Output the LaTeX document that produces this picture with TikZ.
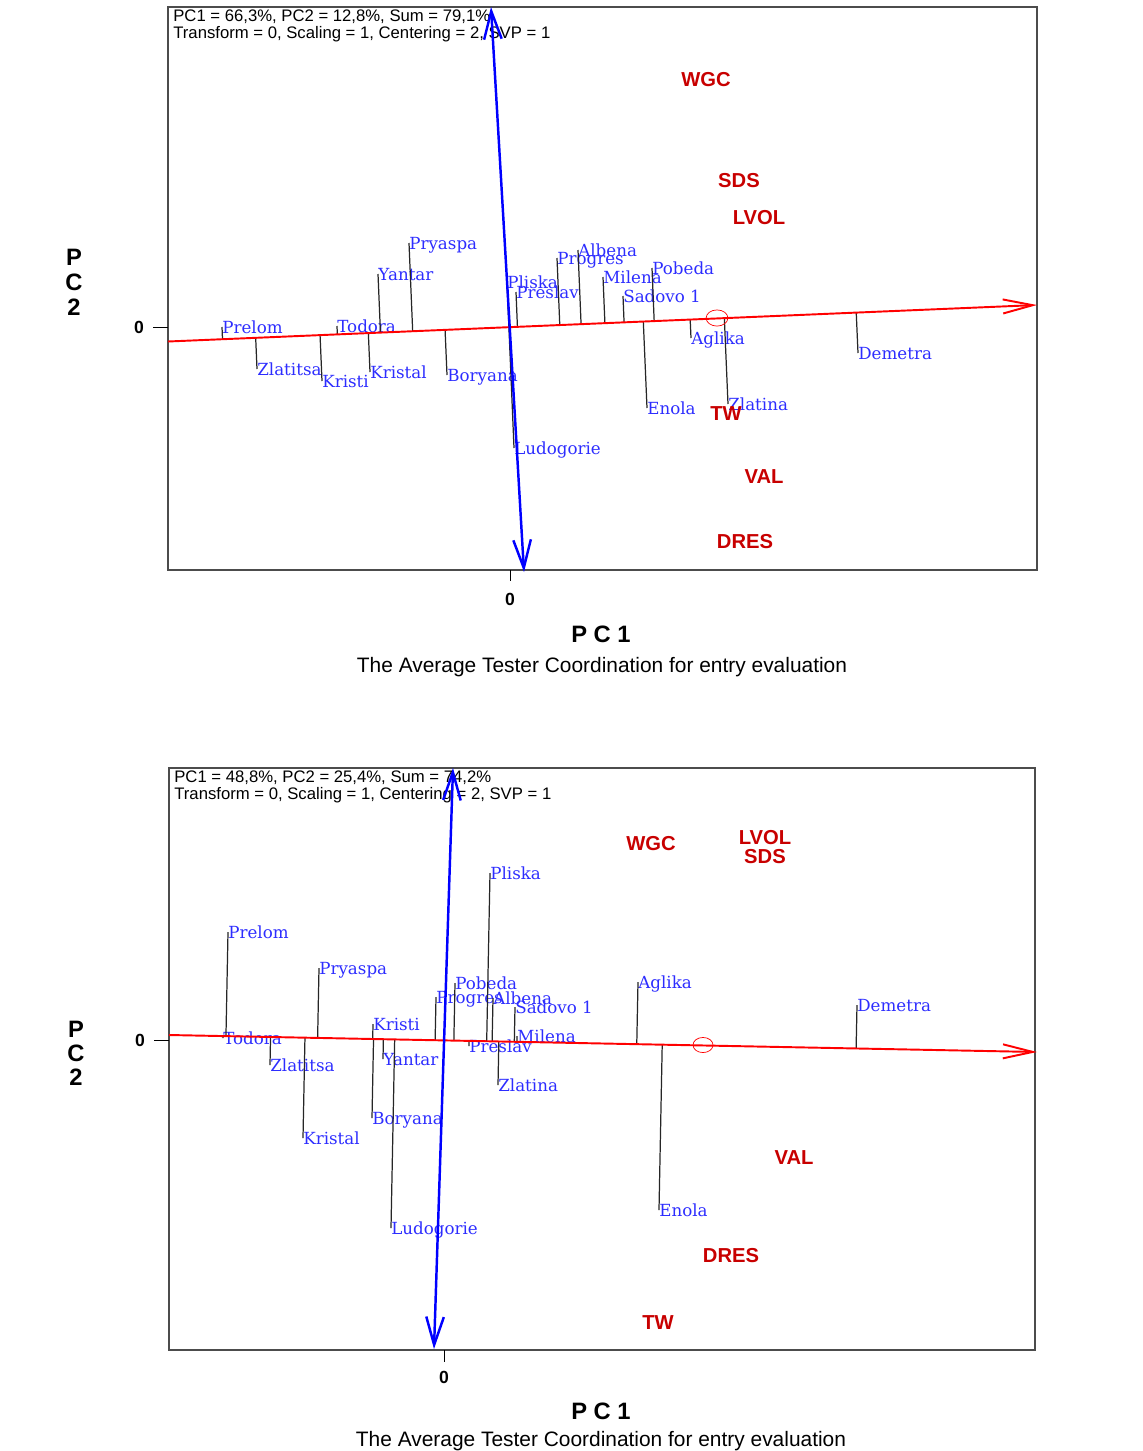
\documentclass[tikz,border=0pt]{standalone}
\usepackage{fontspec}
\setmainfont{Liberation Sans}
\newfontfamily\cultfont{DejaVu Serif}
\usetikzlibrary{calc,arrows.meta}

\definecolor{axred}{RGB}{255,0,0}
\definecolor{axblue}{RGB}{0,0,255}
\definecolor{cultblue}{RGB}{45,45,255}
\definecolor{traitred}{RGB}{200,0,0}

\tikzset{
  cult/.style={anchor=west, inner sep=0pt, text height=6.9pt, text depth=0pt,
    text=cultblue, font=\cultfont\fontsize{9.5}{10}\selectfont},
  trait/.style={inner sep=0pt, text height=8.3pt, text depth=0pt,
    text=traitred, font=\fontsize{11.5}{12}\selectfont\bfseries},
  leader/.style={black!85, line width=0.7pt},
  frame/.style={black!70, line width=0.8pt},
  pcone/.style={axred, line width=1.1pt, -{Straight Barb[length=17pt,width=8pt]}},
  pctwo/.style={axblue, line width=1.4pt,
    {Straight Barb[length=16pt,width=10pt]}-{Straight Barb[length=16pt,width=10pt]}},
  origin/.style={axred, line width=0.4pt},
  info/.style={anchor=west, inner sep=0pt, font=\fontsize{9.5}{10}\selectfont},
  zero/.style={inner sep=0pt, font=\fontsize{10}{10}\selectfont\bfseries},
  axtitle/.style={inner sep=0pt, font=\fontsize{13.5}{14}\selectfont\bfseries},
  caption/.style={inner sep=0pt, font=\fontsize{11.9}{13}\selectfont},
}

\begin{document}
\begin{tikzpicture}[x=0.02cm, y=-0.02cm]
        \useasboundingbox (0,0) rectangle (1143,1451);

        % upper biplot
        \draw[frame] (168,7) rectangle (1037,570);
        \draw[black] (510,570) -- (510,581);
        \draw[black] (153,327) -- (168,327);
        \node[zero] (tZeroX) at (510,599) {0};
        \node[zero] (tZeroY) at (139,327) {0};
        \node[info] (tInfoA) at (173,17) {PC1 = 66,3\%, PC2 = 12,8\%, Sum = 79,1\%};
        \node[info] (tInfoB) at (173,34) {Transform = 0, Scaling = 1, Centering = 2, SVP = 1};

        \coordinate (tA) at (168,341.5);
        \coordinate (tB) at (1037,305);
        \coordinate (tU) at (491,7);
        \coordinate (tD) at (524,572);

        \node[cult] (tPrelom) at (222,327) {Prelom};
        \node[cult] (tZlatitsa) at (257,369) {Zlatitsa};
        \node[cult] (tKristi) at (322,381) {Kristi};
        \node[cult] (tTodora) at (337,326) {Todora};
        \node[cult] (tKristal) at (370,372) {Kristal};
        \node[cult] (tYantar) at (378,274) {Yantar};
        \node[cult] (tPryaspa) at (409,243) {Pryaspa};
        \node[cult] (tBoryana) at (447,375) {Boryana};
        \node[cult] (tPliska) at (507,282) {Pliska};
        \node[cult] (tPreslav) at (516,292) {Preslav};
        \node[cult] (tLudogorie) at (514,448) {Ludogorie};
        \node[cult] (tProgres) at (557,258) {Progres};
        \node[cult] (tAlbena) at (578,250) {Albena};
        \node[cult] (tMilena) at (603,277) {Milena};
        \node[cult] (tSadovo) at (623,296) {Sadovo 1};
        \node[cult] (tPobeda) at (652,268) {Pobeda};
        \node[cult] (tEnola) at (647,408) {Enola};
        \node[cult] (tAglika) at (691,338) {Aglika};
        \node[cult] (tZlatina) at (728,404) {Zlatina};
        \node[cult] (tDemetra) at (858,353) {Demetra};

        \draw[leader] (tPrelom.west) -- ($(tA)!(tPrelom.west)!(tB)$);
        \draw[leader] (tZlatitsa.west) -- ($(tA)!(tZlatitsa.west)!(tB)$);
        \draw[leader] (tKristi.west) -- ($(tA)!(tKristi.west)!(tB)$);
        \draw[leader] (tTodora.west) -- ($(tA)!(tTodora.west)!(tB)$);
        \draw[leader] (tKristal.west) -- ($(tA)!(tKristal.west)!(tB)$);
        \draw[leader] (tYantar.west) -- ($(tA)!(tYantar.west)!(tB)$);
        \draw[leader] (tPryaspa.west) -- ($(tA)!(tPryaspa.west)!(tB)$);
        \draw[leader] (tBoryana.west) -- ($(tA)!(tBoryana.west)!(tB)$);
        \draw[leader] (tPliska.west) -- ($(tA)!(tPliska.west)!(tB)$);
        \draw[leader] (tPreslav.west) -- ($(tA)!(tPreslav.west)!(tB)$);
        \draw[leader] (tLudogorie.west) -- ($(tA)!(tLudogorie.west)!(tB)$);
        \draw[leader] (tProgres.west) -- ($(tA)!(tProgres.west)!(tB)$);
        \draw[leader] (tAlbena.west) -- ($(tA)!(tAlbena.west)!(tB)$);
        \draw[leader] (tMilena.west) -- ($(tA)!(tMilena.west)!(tB)$);
        \draw[leader] (tSadovo.west) -- ($(tA)!(tSadovo.west)!(tB)$);
        \draw[leader] (tPobeda.west) -- ($(tA)!(tPobeda.west)!(tB)$);
        \draw[leader] (tEnola.west) -- ($(tA)!(tEnola.west)!(tB)$);
        \draw[leader] (tAglika.west) -- ($(tA)!(tAglika.west)!(tB)$);
        \draw[leader] (tZlatina.west) -- ($(tA)!(tZlatina.west)!(tB)$);
        \draw[leader] (tDemetra.west) -- ($(tA)!(tDemetra.west)!(tB)$);

        \node[trait] (tWGC) at (706,79) {WGC};
        \node[trait] (tSDS) at (739,180) {SDS};
        \node[trait] (tLVOL) at (759,217) {LVOL};
        \node[trait] (tTW) at (726,413) {TW};
        \node[trait] (tVAL) at (764,476) {VAL};
        \node[trait] (tDRES) at (745,541) {DRES};

        \draw[pcone] (tA) -- (tB);
        \draw[pctwo] (tD) -- (tU);
        \draw[origin] (717,318) ellipse [x radius=6.2pt, y radius=4.6pt];

        \node[axtitle] (tPCone) at (601,634) {P C 1};
        \node[caption] (tCaption) at (602,667) {The Average Tester Coordination for entry evaluation};
        \node[axtitle] (tP) at (74,257) {P};
        \node[axtitle] (tC) at (74,282) {C};
        \node[axtitle] (tTwo) at (74,307) {2};

        % lower biplot
        \draw[frame] (169,768) rectangle (1035,1350);
        \draw[black] (444,1350) -- (444,1362);
        \draw[black] (154,1040) -- (169,1040);
        \node[zero] (bZeroX) at (444,1377) {0};
        \node[zero] (bZeroY) at (140,1040) {0};
        \node[info] (bInfoA) at (174,778) {PC1 = 48,8\%, PC2 = 25,4\%, Sum = 74,2\%};
        \node[info] (bInfoB) at (174,795) {Transform = 0, Scaling = 1, Centering = 2, SVP = 1};

        \coordinate (bA) at (169,1035);
        \coordinate (bB) at (1037,1052);
        \coordinate (bU) at (453,768);
        \coordinate (bD) at (434,1349);

        \node[cult] (bPrelom) at (228,932) {Prelom};
        \node[cult] (bTodora) at (223,1038) {Todora};
        \node[cult] (bPryaspa) at (319,968) {Pryaspa};
        \node[cult] (bZlatitsa) at (270,1065) {Zlatitsa};
        \node[cult] (bKristal) at (303,1138) {Kristal};
        \node[cult] (bKristi) at (373,1024) {Kristi};
        \node[cult] (bBoryana) at (372,1118) {Boryana};
        \node[cult] (bYantar) at (383,1059) {Yantar};
        \node[cult] (bLudogorie) at (391,1228) {Ludogorie};
        \node[cult] (bProgres) at (436,997) {Progres};
        \node[cult] (bPobeda) at (455,983) {Pobeda};
        \node[cult] (bPliska) at (490,873) {Pliska};
        \node[cult] (bAlbena) at (493,998) {Albena};
        \node[cult] (bSadovo) at (515,1007) {Sadovo 1};
        \node[cult] (bMilena) at (517,1036) {Milena};
        \node[cult] (bPreslav) at (469,1046) {Preslav};
        \node[cult] (bZlatina) at (498,1085) {Zlatina};
        \node[cult] (bAglika) at (638,982) {Aglika};
        \node[cult] (bEnola) at (659,1210) {Enola};
        \node[cult] (bDemetra) at (857,1005) {Demetra};

        \draw[leader] (bPrelom.west) -- ($(bA)!(bPrelom.west)!(bB)$);
        \draw[leader] (bTodora.west) -- ($(bA)!(bTodora.west)!(bB)$);
        \draw[leader] (bPryaspa.west) -- ($(bA)!(bPryaspa.west)!(bB)$);
        \draw[leader] (bZlatitsa.west) -- ($(bA)!(bZlatitsa.west)!(bB)$);
        \draw[leader] (bKristal.west) -- ($(bA)!(bKristal.west)!(bB)$);
        \draw[leader] (bKristi.west) -- ($(bA)!(bKristi.west)!(bB)$);
        \draw[leader] (bBoryana.west) -- ($(bA)!(bBoryana.west)!(bB)$);
        \draw[leader] (bYantar.west) -- ($(bA)!(bYantar.west)!(bB)$);
        \draw[leader] (bLudogorie.west) -- ($(bA)!(bLudogorie.west)!(bB)$);
        \draw[leader] (bProgres.west) -- ($(bA)!(bProgres.west)!(bB)$);
        \draw[leader] (bPobeda.west) -- ($(bA)!(bPobeda.west)!(bB)$);
        \draw[leader] (bPliska.west) -- ($(bA)!(bPliska.west)!(bB)$);
        \draw[leader] (bAlbena.west) -- ($(bA)!(bAlbena.west)!(bB)$);
        \draw[leader] (bSadovo.west) -- ($(bA)!(bSadovo.west)!(bB)$);
        \draw[leader] (bMilena.west) -- ($(bA)!(bMilena.west)!(bB)$);
        \draw[leader] (bPreslav.west) -- ($(bA)!(bPreslav.west)!(bB)$);
        \draw[leader] (bZlatina.west) -- ($(bA)!(bZlatina.west)!(bB)$);
        \draw[leader] (bAglika.west) -- ($(bA)!(bAglika.west)!(bB)$);
        \draw[leader] (bEnola.west) -- ($(bA)!(bEnola.west)!(bB)$);
        \draw[leader] (bDemetra.west) -- ($(bA)!(bDemetra.west)!(bB)$);

        \node[trait] (bWGC) at (651,843) {WGC};
        \node[trait] (bLVOL) at (765,837) {LVOL};
        \node[trait] (bSDS) at (765,856) {SDS};
        \node[trait] (bVAL) at (794,1157) {VAL};
        \node[trait] (bDRES) at (731,1255) {DRES};
        \node[trait] (bTW) at (658,1322) {TW};

        \draw[pcone] (bA) -- (bB);
        \draw[pctwo] (bD) -- (bU);
        \draw[origin] (703,1045) ellipse [x radius=5.7pt, y radius=4.3pt];

        \node[axtitle] (bPCone) at (601,1411) {P C 1};
        \node[caption] (bCaption) at (601,1441) {The Average Tester Coordination for entry evaluation};
        \node[axtitle] (bP) at (76,1029) {P};
        \node[axtitle] (bC) at (76,1053) {C};
        \node[axtitle] (bTwo) at (76,1077) {2};
    \end{tikzpicture}
\end{document}
